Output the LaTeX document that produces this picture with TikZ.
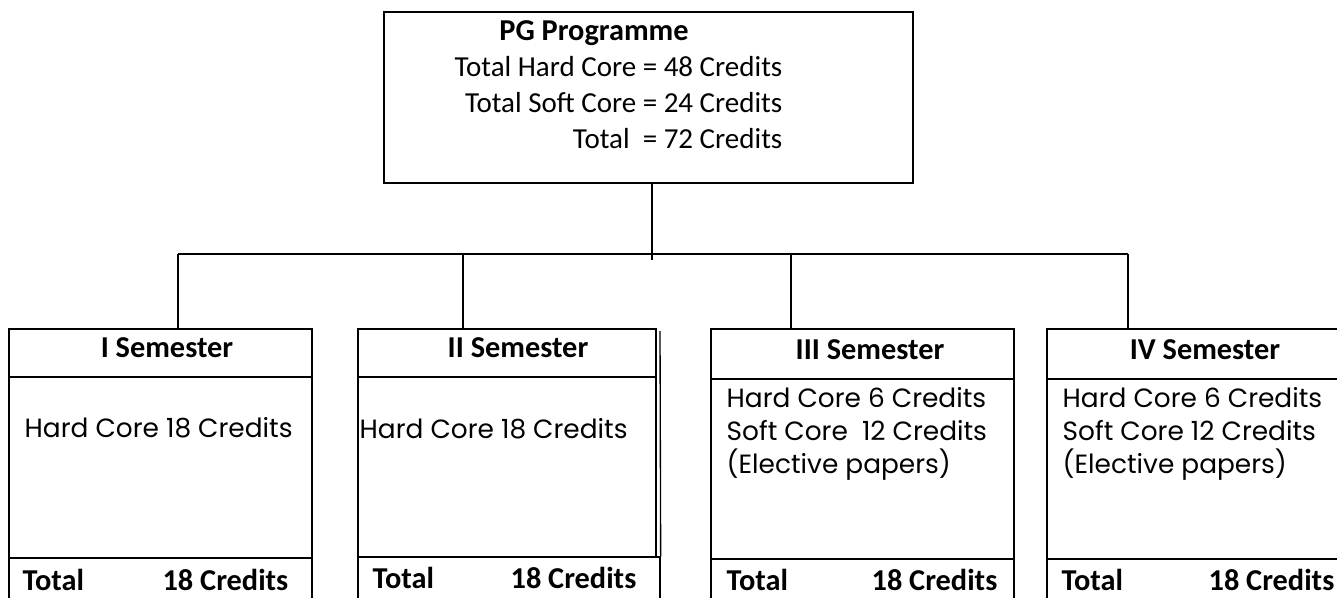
\documentclass[tikz,border=0pt]{standalone}
\usepackage{fontspec}
\setmainfont{Carlito}
\newfontfamily\gothicfont{Poppins}
\usetikzlibrary{fit}

\begin{document}
\begin{tikzpicture}[x=0.75pt, y=-0.75pt, line width=1pt,
		cell/.style={draw, inner sep=0pt, fit={#1}},
		txt/.style={inner sep=0pt, font=\fontsize{21.75}{27}\selectfont},
		bold/.style={inner sep=0pt, font=\fontsize{22.75}{27}\selectfont\bfseries},
		plain/.style={inner sep=0pt, align=left, font=\gothicfont\fontsize{19.8}{24.75}\selectfont}]
			\useasboundingbox (0,0) rectangle (1337,598);
			\clip (0,0) rectangle (1337,598);

			% programme box
			\node[cell={(384,12) (913,183)}] (prog) {};
			\node[bold, anchor=base] (progtitle) at (594,41) {PG Programme};
			\node[txt, anchor=base east, align=right] (progsum) at (783,149)
				{Total Hard Core = 48 Credits\\ Total Soft Core = 24 Credits\\ Total\ \ = 72 Credits};

			% tree
			\coordinate (hub) at (652,260);
			\coordinate (bus1) at (178,254);
			\coordinate (bus2) at (463,254);
			\coordinate (bus3) at (791,254);
			\coordinate (bus4) at (1128,254);
			\draw (prog.south -| hub) -- (hub);
			\draw (bus1) -- (bus4);

			% I semester
			\node[cell={(9,329) (312,377)}] (s1head) {};
			\node[cell={(9,377) (312,558)}] (s1body) {};
			\node[cell={(9,558) (312,640)}] (s1tot) {};
			\node[bold, anchor=base] (s1name) at (167,357) {I Semester};
			\node[plain, anchor=base west] (s1text) at (24,437) {Hard Core 18 Credits};
			\node[bold, anchor=base west] (s1total) at (22,590) {Total};
			\node[bold, anchor=base east] (s1credit) at (289,590) {18 Credits};
			\draw (bus1) -- (bus1 |- s1head.north);

			% II semester
			\node[cell={(358,329) (656,377)}] (s2head) {};
			\node[cell={(358,377) (656,557)}] (s2body) {};
			\node[cell={(358,557) (660,640)}] (s2tot) {};
			\node[bold, anchor=base] (s2name) at (518,357) {II Semester};
			\node[plain, anchor=base west] (s2text) at (359,438) {Hard Core 18 Credits};
			\node[bold, anchor=base west] (s2total) at (372,588) {Total};
			\node[bold, anchor=base east] (s2credit) at (637,588) {18 Credits};
			\draw (660,331) -- (s2tot.north east);
			\draw (bus2) -- (bus2 |- s2head.north);

			% III semester
			\node[cell={(711,329) (1014,379)}] (s3head) {};
			\node[cell={(711,379) (1014,559)}] (s3body) {};
			\node[cell={(711,559) (1014,640)}] (s3tot) {};
			\node[bold, anchor=base] (s3name) at (870,359) {III Semester};
			\node[plain, anchor=base west] (s3text) at (726,473)
				{Hard Core 6 Credits\\ Soft Core\ \ 12 Credits\\ (Elective papers)};
			\node[bold, anchor=base west] (s3total) at (726,590) {Total};
			\node[bold, anchor=base east] (s3credit) at (998,590) {18 Credits};
			\draw (bus3) -- (bus3 |- s3head.north);

			% IV semester
			\node[cell={(1047,329) (1360,379)}] (s4head) {};
			\node[cell={(1047,379) (1360,559)}] (s4body) {};
			\node[cell={(1047,559) (1360,640)}] (s4tot) {};
			\node[bold, anchor=base] (s4name) at (1205,359) {IV Semester};
			\node[plain, anchor=base west] (s4text) at (1062,473)
				{Hard Core 6 Credits\\ Soft Core 12 Credits\\ (Elective papers)};
			\node[bold, anchor=base west] (s4total) at (1061,590) {Total};
			\node[bold, anchor=base east] (s4credit) at (1335,590) {18 Credits};
			\draw (bus4) -- (bus4 |- s4head.north);
		\end{tikzpicture}
\end{document}
